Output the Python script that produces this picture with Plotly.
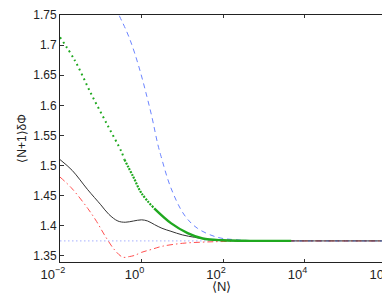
import numpy as np
import plotly.graph_objects as go

# exponents of <N> (log10) and curve values
black_logN = [-2, -1.7, -1.32, -1.0, -0.8, -0.58, -0.4, -0.2, 0, 0.15, 0.32, 0.5, 0.72, 1.0, 1.3, 1.6, 2.0, 2.5, 3.0, 4.0, 5.0, 6.3]
black_val  = [1.510, 1.492, 1.460, 1.435, 1.419, 1.408, 1.406, 1.408, 1.410, 1.408, 1.402, 1.396, 1.391, 1.385, 1.381, 1.378, 1.3765, 1.3755, 1.375, 1.375, 1.375, 1.375]

red_logN = [-2, -1.72, -1.32, -1.1, -0.91, -0.66, -0.46, -0.3, -0.17, 0, 0.25, 0.5, 1.0, 1.5, 2.0, 3.0, 4.0, 5.0, 6.3]
red_val  = [1.481, 1.463, 1.429, 1.407, 1.385, 1.360, 1.348, 1.349, 1.351, 1.356, 1.361, 1.366, 1.371, 1.373, 1.374, 1.375, 1.375, 1.375, 1.375]

green_logN = [-2, -1.64, -1.235, -0.826, -0.5, -0.42, -0.2, 0, 0.31, 0.72, 1.13, 1.5, 2.0, 2.5, 3.0, 3.67]
green_val  = [1.713, 1.675, 1.619, 1.566, 1.524, 1.510, 1.481, 1.454, 1.429, 1.4045, 1.388, 1.379, 1.376, 1.3752, 1.375, 1.375]

blue_logN = [-2, -1.0, -0.54, -0.42, -0.30, -0.17, -0.01, 0.13, 0.25, 0.40, 0.48, 0.72, 1.05, 1.37, 1.86, 2.3, 3.0, 4.0, 5.0, 6.3]
blue_val  = [1.95, 1.82, 1.748, 1.731, 1.712, 1.687, 1.651, 1.615, 1.582, 1.535, 1.515, 1.463, 1.418, 1.396, 1.381, 1.377, 1.375, 1.375, 1.375, 1.375]

limit_logN = [-2, 6.3]
limit_val = [1.375, 1.375]

xtick_vals = [1e-2, 1e0, 1e2, 1e4, 1e6]
xtick_text = ["10<sup>−2</sup>", "10<sup>0</sup>", "10<sup>2</sup>", "10<sup>4</sup>", "10<sup>6</sup>"]
ytick_vals = [1.35, 1.4, 1.45, 1.5, 1.55, 1.6, 1.65, 1.7, 1.75]
ytick_text = ["1.35", "1.4", "1.45", "1.5", "1.55", "1.6", "1.65", "1.7", "1.75"]

def X(lg):
    return np.power(10.0, np.array(lg, dtype=float))

fig = go.Figure()
fig.add_trace(go.Scatter(x=X(limit_logN), y=limit_val, mode="lines",
                         line=dict(color="#b8c0ff", width=1.3, dash="1.5px,2.5px")))
fig.add_trace(go.Scatter(x=X(blue_logN), y=blue_val, mode="lines", line_shape="spline",
                         line=dict(color="#6b84ff", width=1, dash="5px,4px")))
fig.add_trace(go.Scatter(x=X(red_logN), y=red_val, mode="lines", line_shape="spline",
                         line=dict(color="#ff5050", width=1, dash="6px,3px,1.5px,3px")))
fig.add_trace(go.Scatter(x=X(black_logN), y=black_val, mode="lines", line_shape="spline",
                         line=dict(color="#333333", width=1)))
# green: sparse dotted part, denser part, and merged solid part
fig.add_trace(go.Scatter(x=X(green_logN[:6]), y=green_val[:6], mode="lines", line_shape="spline",
                         line=dict(color="#1fa81f", width=2, dash="1.8px,3.5px")))
fig.add_trace(go.Scatter(x=X(green_logN[5:9]), y=green_val[5:9], mode="lines", line_shape="spline",
                         line=dict(color="#1fa81f", width=2.2, dash="2px,1.2px")))
fig.add_trace(go.Scatter(x=X(green_logN[8:]), y=green_val[8:], mode="lines", line_shape="spline",
                         line=dict(color="#1fa81f", width=2.4)))

font = "Liberation Sans, Arial, sans-serif"
fig.update_layout(
    width=390, height=293,
    margin=dict(l=52, r=0, t=7, b=39),
    paper_bgcolor="white", plot_bgcolor="white",
    showlegend=False,
    font=dict(family=font, size=12, color="#222222"),
    xaxis=dict(type="log", range=[-2, 6.29], tickvals=xtick_vals, ticktext=xtick_text,
               ticks="inside", ticklen=3, tickcolor="#333", showgrid=False, zeroline=False,
               showline=True, linecolor="#222", linewidth=1, mirror="allticks",
               ticklabeloverflow="allow", tickfont=dict(size=13), ticklabelshift=-7),
    yaxis=dict(range=[1.34, 1.75], tickvals=ytick_vals, ticktext=ytick_text,
               ticks="inside", ticklen=4, tickcolor="#333", showgrid=False, zeroline=False,
               showline=True, linecolor="#222", linewidth=1, mirror="allticks",
               title=dict(text="⟨N+1⟩δΦ", standoff=4, font=dict(size=12))),
    annotations=[
        dict(text="⟨N⟩", xref="paper", yref="paper", x=0.479, y=-0.100,
             xanchor="center", yanchor="middle", showarrow=False, font=dict(size=13)),
    ],
)

fig.write_html("out.html")
